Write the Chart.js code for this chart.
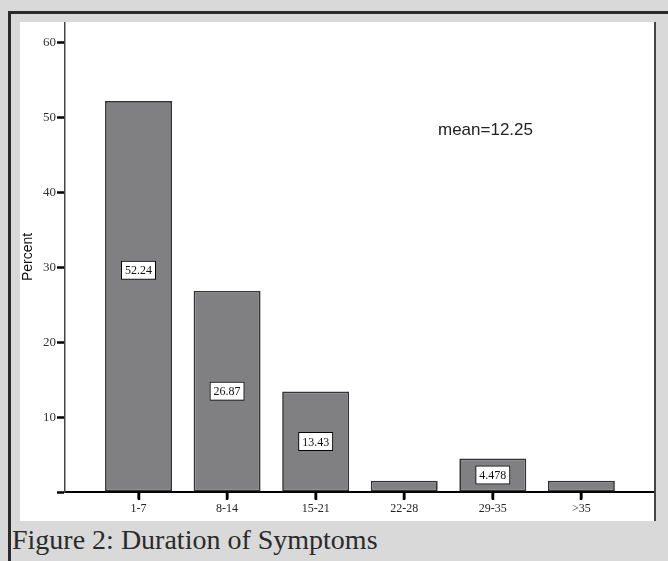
<!DOCTYPE html>
<html>
<head>
<meta charset="utf-8">
<script src="https://cdn.jsdelivr.net/npm/chart.js@4/dist/chart.umd.min.js"></script>
<style>
  body { margin: 0; width: 668px; height: 561px; overflow: hidden; background: #d9d9d9; position: relative; }
  #frame { position: absolute; left: 8px; top: 11px; width: 700px; height: 600px; border-left: 3px solid #2b2b2b; border-top: 3px solid #2b2b2b; }
  #panel { position: absolute; left: 20px; top: 22px; width: 634px; height: 499px; background: #fff; border-right: 2px solid #444; }
  #caption { position: absolute; left: 12px; top: 524px; font-family: "Liberation Serif", serif; font-size: 28px; color: #2a2a2a; white-space: nowrap; }
</style>
</head>
<body>
<div id="frame"></div>
<div id="panel"><canvas id="myChart" width="634" height="499"></canvas></div>
<div id="caption">Figure 2: Duration of Symptoms</div>
<script>
  // durations in days, percent of patients (n=67)
  const categories = ['1-7', '8-14', '15-21', '22-28', '29-35', '>35'];
  const percents = [52.24, 26.87, 13.43, 1.49, 4.478, 1.49];
  const shownLabels = ['52.24', '26.87', '13.43', '', '4.478', ''];
  const yTicks = [0, 10, 20, 30, 40, 50, 60];
  const meanText = 'mean=12.25';

  const points = percents.map(function(v, i){ return {x: i + 1, y: v}; });

  const labelBoxes = {
    id: 'labelBoxes',
    afterDatasetsDraw(chart){
      const ctx = chart.ctx;
      const meta = chart.getDatasetMeta(0);
      ctx.save();
      ctx.font = '12px "Liberation Serif"';
      ctx.textAlign = 'center';
      ctx.textBaseline = 'middle';
      meta.data.forEach(function(bar, i){
        const txt = shownLabels[i];
        if(!txt) return;
        let cy = (bar.y + bar.base) / 2;
        if(i === 0) cy -= 26;
        const w = 35, h = 19;
        ctx.fillStyle = '#fff';
        ctx.fillRect(bar.x - w/2, cy - h/2, w, h);
        ctx.strokeStyle = '#000';
        ctx.lineWidth = 1;
        ctx.strokeRect(bar.x - w/2 + 0.5, cy - h/2 + 0.5, w - 1, h - 1);
        ctx.fillStyle = '#111';
        ctx.fillText(txt, bar.x, cy + 1);
      });
      // x tick marks below the axis
      const xs = chart.scales.x;
      ctx.strokeStyle = '#000';
      ctx.lineWidth = 2.5;
      xs.ticks.forEach(function(t){
        const px = Math.round(xs.getPixelForValue(t.value));
        ctx.beginPath();
        ctx.moveTo(px, chart.chartArea.bottom);
        ctx.lineTo(px, chart.chartArea.bottom + 8);
        ctx.stroke();
      });
      // mean note
      ctx.font = '17px "Liberation Sans"';
      ctx.textAlign = 'left';
      ctx.fillStyle = '#222';
      ctx.fillText(meanText, 418, 108);
      ctx.restore();
    }
  };

  const ctx = document.getElementById('myChart');
  const myChart = new Chart(ctx, {
    type: 'bar',
    data: {
      datasets: [{
        data: points,
        backgroundColor: '#808083',
        borderColor: '#333',
        borderWidth: 1.7,
        borderSkipped: false,
        barPercentage: 0.756,
        categoryPercentage: 1
      }]
    },
    options: {
      responsive: false,
      animation: false,
      layout: { padding: 0 },
      plugins: { legend: { display: false }, tooltip: { enabled: false } },
      scales: {
        x: {
          type: 'linear',
          offset: false,
          min: 0.17,
          max: 6.82,
          afterBuildTicks: function(scale){
            scale.ticks = categories.map(function(c, i){ return {value: i + 1}; });
          },
          afterFit: function(scale){ scale.height = 29; scale.paddingLeft = 0; scale.paddingRight = 0; },
          ticks: {
            autoSkip: false,
            maxRotation: 0,
            padding: 3,
            color: '#222',
            font: { family: 'Liberation Serif', size: 12 },
            callback: function(v){ return categories[v - 1]; }
          },
          grid: { offset: false, drawOnChartArea: false, tickLength: 7, tickWidth: 2, tickColor: '#000' },
          border: { color: '#000', width: 2 }
        },
        y: {
          min: 0,
          max: 62.8,
          afterBuildTicks: function(scale){
            scale.ticks = yTicks.map(function(v){ return {value: v}; });
          },
          afterFit: function(scale){ scale.width = 45; scale.paddingTop = 0; scale.paddingBottom = 0; },
          title: { display: true, text: 'Percent', color: '#111', font: { family: 'Liberation Sans', size: 14 }, padding: 0 },
          ticks: {
            padding: 1,
            color: '#333',
            font: { family: 'Liberation Serif', size: 13 },
            callback: function(v){ return v === 0 ? '' : v; }
          },
          grid: { drawOnChartArea: false, tickLength: 8, tickWidth: 2.5, tickColor: '#000' },
          border: { color: '#444', width: 1.5 }
        }
      }
    },
    plugins: [labelBoxes]
  });
</script>
</body>
</html>
